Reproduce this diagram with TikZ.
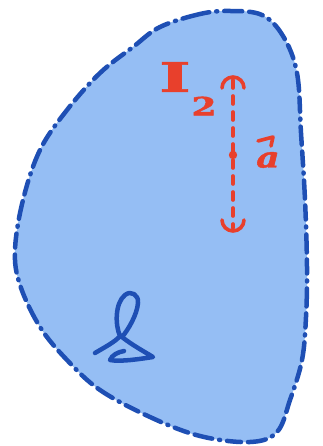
\documentclass[tikz,border=0pt]{standalone}
\usepackage{fontspec}
\newfontfamily\handserif[FakeBold=1.5]{DejaVu Serif}
\usetikzlibrary{calc}
\definecolor{fillblue}{HTML}{95BEF4}
\definecolor{edgeblue}{HTML}{1E4FB4}
\definecolor{inkred}{HTML}{E8402C}
\tikzset{
  outline/.style={draw=edgeblue, fill=fillblue, line width=4.5pt, line cap=round, line join=round,
    dash pattern=on 18pt off 7pt on 1pt off 7pt on 14pt off 7pt},
  redink/.style={draw=inkred, line width=3.6pt, line cap=round, line join=round},
  reddash/.style={redink, dash pattern=on 8pt off 8pt},
  blueink/.style={draw=edgeblue, line width=4.5pt, line cap=round, line join=round},
  lbl/.style={text=inkred, inner sep=0pt, font=\handserif\bfseries}
}
\begin{document}
\begin{tikzpicture}[x=1pt,y=-1pt]
\useasboundingbox (0,0) rectangle (323,446);
\fill[white] (0,0) rectangle (323,446);
% region
\path[outline] plot[smooth cycle, tension=0.6] coordinates {
 (230,11) (200,14) (160,27) (133,47) (100,73) (67,110) (40,150) (23,200)
 (15,250) (20,285) (40,327) (67,360) (100,390) (150,417) (200,436) (250,442)
 (277,432) (290,400) (302,360) (306,317) (307,267) (305,200) (301,133)
 (297,73) (283,36) (262,15)};
% red marks
\coordinate (top) at (233,80);
\coordinate (bot) at (233,228);
\coordinate (ctr) at (233,155);
\draw[redink] (222,88) arc[start angle=180, end angle=360, radius=11];
\draw[redink] (222,220) arc[start angle=180, end angle=0, radius=11];
\draw[reddash] (top) -- (bot);
\fill[inkred] (ctr) circle (4.2pt);
\node[lbl] (I) at (175,77) {\scalebox{2.4}[1.45]{\fontsize{28}{28}\selectfont I}};
\node[lbl] (two) at (204,106) {\scalebox{1.5}[1.05]{\fontsize{24}{24}\selectfont 2}};
\node[lbl] (a) at (268,160) {\scalebox{1.5}[1.2]{\fontsize{24}{24}\selectfont\itshape a}};
\coordinate (arrL) at (258,141);
\coordinate (arrR) at (273,137);
\draw[redink] (arrL) -- (arrR) -- (271,146);
% blue script l
\draw[blueink] (95,353) .. controls (105,347) and (115,342) .. (120,336)
  .. controls (115,325) and (115,303) .. (125,295)
  .. controls (131,290) and (139,295) .. (138,303)
  .. controls (137,315) and (128,330) .. (122,337)
  .. controls (132,345) and (145,352) .. (153,357)
  .. controls (140,359) and (120,362) .. (110,360)
  .. controls (112,355) and (118,352) .. (124,351);
\end{tikzpicture}
\end{document}
